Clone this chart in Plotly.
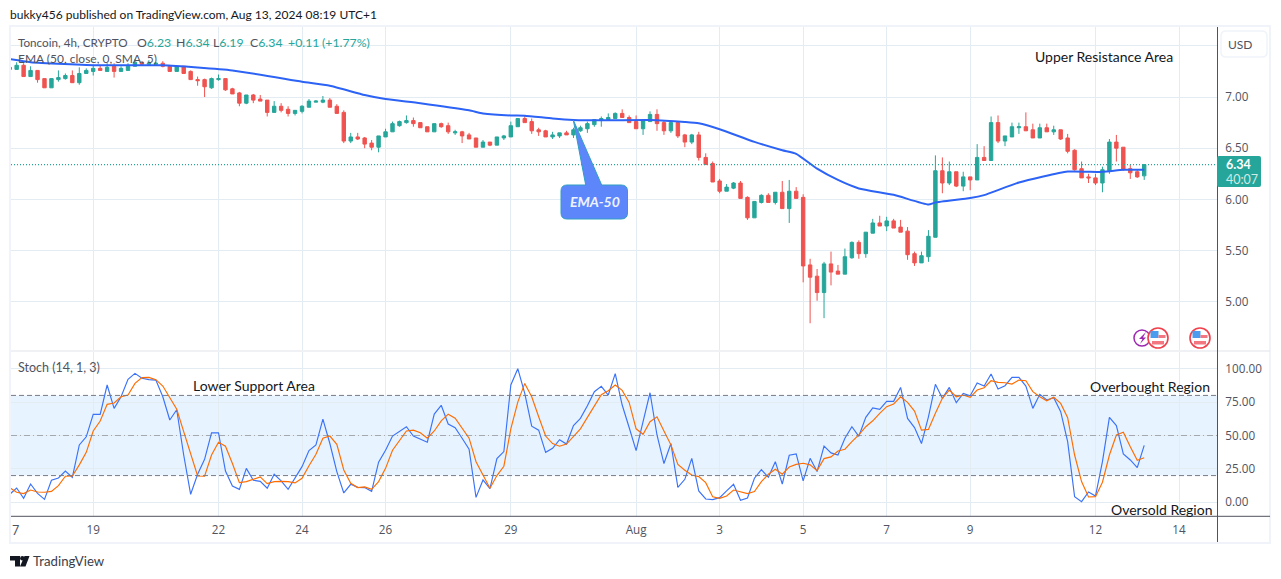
import pandas as pd
import plotly.graph_objects as go

W, H = 1281, 579

# ---- data ----
start_date = "2024-07-17 00:00"
opens = [7.27,7.27,7.31,7.20,7.26,7.18,7.09,7.17,7.18,7.21,
7.14,7.23,7.25,7.28,7.25,7.30,7.25,7.26,7.30,7.34,
7.32,7.32,7.33,7.30,7.25,7.30,7.25,7.17,7.17,7.09,
7.17,7.18,7.08,7.04,6.94,7.02,6.98,6.97,6.85,6.91,
6.88,6.84,6.86,6.90,6.95,6.95,6.97,6.91,6.85,6.57,
6.61,6.60,6.55,6.51,6.61,6.66,6.72,6.75,6.77,6.75,
6.71,6.66,6.74,6.72,6.65,6.66,6.63,6.60,6.51,6.56,
6.53,6.60,6.61,6.71,6.79,6.76,6.68,6.67,6.61,6.62,
6.65,6.63,6.67,6.69,6.73,6.77,6.78,6.79,6.84,6.80,
6.76,6.69,6.76,6.83,6.75,6.67,6.75,6.63,6.56,6.63,
6.41,6.35,6.18,6.08,6.11,6.16,6.02,5.82,5.97,6.04,
5.97,6.07,5.91,6.08,6.02,5.36,5.25,5.09,5.37,5.30,
5.27,5.43,5.58,5.47,5.67,5.77,5.74,5.79,5.73,5.69,
5.47,5.38,5.44,5.63,6.28,6.16,6.27,6.13,6.22,6.19,
6.41,6.38,6.75,6.57,6.61,6.70,6.71,6.68,6.60,6.70,
6.66,6.68,6.60,6.48,6.30,6.22,6.21,6.16,6.28,6.56,
6.51,6.30,6.27,6.23]
highs = [7.34,7.34,7.33,7.30,7.26,7.18,7.18,7.26,7.23,7.26,
7.29,7.28,7.31,7.31,7.33,7.33,7.30,7.33,7.37,7.35,
7.36,7.34,7.35,7.30,7.30,7.30,7.26,7.20,7.18,7.19,
7.22,7.18,7.09,7.05,7.02,7.03,7.02,6.97,6.96,6.94,
6.91,6.87,6.92,6.98,6.97,7.01,6.99,6.93,6.87,6.65,
6.65,6.61,6.58,6.62,6.69,6.76,6.77,6.82,6.80,6.75,
6.71,6.74,6.75,6.75,6.68,6.67,6.65,6.60,6.58,6.56,
6.61,6.63,6.76,6.79,6.82,6.79,6.70,6.68,6.66,6.65,
6.67,6.70,6.72,6.76,6.78,6.81,6.84,6.85,6.88,6.82,
6.82,6.78,6.86,6.88,6.77,6.76,6.76,6.64,6.64,6.66,
6.45,6.37,6.20,6.15,6.17,6.18,6.03,5.98,6.05,6.06,
6.07,6.18,6.19,6.12,6.05,5.42,5.32,5.39,5.49,5.36,
5.52,5.59,5.60,5.68,5.81,5.84,5.83,5.81,5.80,5.73,
5.49,5.49,5.70,6.43,6.41,6.37,6.27,6.27,6.22,6.54,
6.52,6.81,6.82,6.62,6.75,6.75,6.85,6.74,6.74,6.74,
6.72,6.68,6.64,6.49,6.37,6.25,6.25,6.32,6.59,6.63,
6.51,6.34,6.29,6.34]
lows = [7.27,7.27,7.20,7.20,7.14,7.09,7.09,7.15,7.17,7.14,
7.12,7.23,7.21,7.26,7.25,7.19,7.25,7.26,7.30,7.32,
7.31,7.31,7.29,7.25,7.25,7.23,7.17,7.11,7.00,7.08,
7.16,7.06,7.03,6.91,6.93,6.94,6.96,6.81,6.85,6.85,
6.81,6.82,6.84,6.90,6.95,6.94,6.90,6.84,6.55,6.55,
6.58,6.50,6.48,6.46,6.61,6.66,6.71,6.74,6.71,6.70,
6.66,6.66,6.70,6.64,6.63,6.55,6.59,6.51,6.51,6.52,
6.53,6.58,6.61,6.71,6.75,6.64,6.62,6.61,6.59,6.60,
6.63,6.60,6.66,6.65,6.71,6.71,6.78,6.79,6.80,6.75,
6.69,6.63,6.76,6.67,6.63,6.65,6.60,6.51,6.54,6.38,
6.34,6.17,6.06,6.08,6.10,6.01,5.80,5.82,5.96,5.97,
5.95,5.91,5.77,6.01,5.19,4.79,5.01,4.84,5.16,5.27,
5.27,5.42,5.42,5.43,5.67,5.74,5.69,5.72,5.68,5.41,
5.35,5.38,5.39,5.63,6.06,6.14,6.12,6.08,6.09,6.19,
6.38,6.38,6.55,6.52,6.61,6.64,6.67,6.60,6.60,6.66,
6.63,6.58,6.45,6.28,6.21,6.16,6.14,6.07,6.25,6.37,
6.28,6.20,6.21,6.19]
closes = [7.29,7.31,7.20,7.26,7.17,7.09,7.18,7.19,7.21,7.14,
7.23,7.26,7.28,7.26,7.29,7.25,7.28,7.30,7.34,7.32,
7.33,7.33,7.30,7.25,7.30,7.23,7.17,7.16,7.10,7.18,
7.18,7.07,7.03,6.94,7.02,6.97,6.96,6.85,6.91,6.87,
6.84,6.87,6.91,6.96,6.96,6.97,6.90,6.84,6.57,6.61,
6.59,6.54,6.51,6.62,6.66,6.74,6.76,6.77,6.74,6.70,
6.66,6.74,6.71,6.66,6.66,6.62,6.59,6.51,6.56,6.53,
6.61,6.62,6.72,6.79,6.75,6.67,6.66,6.61,6.63,6.65,
6.63,6.68,6.70,6.74,6.78,6.79,6.80,6.84,6.80,6.75,
6.69,6.77,6.83,6.74,6.67,6.75,6.62,6.56,6.63,6.41,
6.34,6.17,6.08,6.12,6.16,6.01,5.82,5.98,6.04,5.97,
6.07,5.91,6.08,6.01,5.35,5.24,5.09,5.37,5.29,5.27,
5.44,5.58,5.47,5.68,5.77,5.74,5.79,5.72,5.68,5.46,
5.38,5.45,5.64,6.28,6.16,6.27,6.13,6.22,6.19,6.41,
6.38,6.75,6.57,6.62,6.71,6.71,6.67,6.60,6.70,6.66,
6.68,6.59,6.47,6.29,6.21,6.21,6.16,6.29,6.56,6.50,
6.29,6.26,6.22,6.34]

ema_bars = [0,3,13,22,32,42,46,51,54,59,66,68,72,74,78,81,86,92,97,99,102,107,111,113,116,119,122,127,132,133,138,140,145,152,157,160,163]
ema_vals = [7.37,7.34,7.31,7.31,7.26,7.15,7.11,7.02,6.98,6.94,6.87,6.84,6.82,6.818,6.79,6.776,6.773,6.776,6.756,6.743,6.685,6.562,6.48,6.445,6.30,6.19,6.107,6.045,5.95,5.97,6.013,6.042,6.165,6.272,6.269,6.289,6.29]

stoch_k = [6,10.7,3,13.7,6.7,2.2,16.5,18.2,23.4,18.7,
42.9,49,65.8,65.8,87.8,70.3,79,92,96.5,92.8,
91.8,91.5,79,61.6,69.3,35.4,6,21,32.2,52,
52,23.4,12.2,9.7,25.4,16.5,15.7,10.5,21,16,
9.7,18,26.7,38.7,42.9,62.3,44,23,7,13.5,
11.2,11,8.2,30,39,49.6,53,56.6,49.6,47,
45,66,72.6,58.6,55.9,47.9,39.7,3.7,16.7,10.2,
32.7,38,87.8,100,81.5,57,54,37.4,40.4,46.9,
43.6,57.4,62.8,72.3,82.8,86.8,80.3,96.3,72.8,56,
38.7,60.3,82,50.4,29,44,11.2,17.2,32.9,8.5,
2.5,2,3.5,8.5,13.5,1.5,3.2,18,24.4,18.7,
30.4,13.7,35.2,36.2,16,32.9,23,42,37,35.4,
47.9,56.6,49.4,63.6,70.6,69.6,75.6,75.6,86,62.8,
55.9,44,64,88.3,77.8,86,74.6,81.5,79.8,89.3,
87,96,84.8,87.3,93.5,93.5,87,70.3,80.8,76.6,
78.3,67.8,45.4,4.2,0.5,7.7,4.7,30.4,63.6,57.4,
36.2,31.7,26,42.6]
stoch_d = [11,7.5,6.5,9.2,7.7,7.5,8.2,12.5,19.5,19.7,
28,37.4,53.4,60.8,73.3,74.3,79,80.3,89,93.3,
93.5,91.8,87,77.8,69.6,52.9,35.4,19.7,19.5,35.4,
45,42,29,14.7,15.5,17.2,19,14,15.5,15.7,
15.5,14.5,18,27.4,36,47.9,49.6,43.4,24.2,14.2,
11,11.5,9.7,15.5,25.4,39,46.6,53.4,54,52,
48,53.4,61,66,63,55,48,30.4,20.4,10.5,
20,27,55,75,89,79,64,49.6,44,42,
43.6,49,55,63.6,72.3,80.5,83.5,87.8,83.8,74.8,
55,50.9,60.3,64,53.4,43,28.4,24,20.4,19.2,
14.7,4.2,3,4.7,9.2,8,6.5,8,15.5,21,
24.7,21,26.4,28.4,29.2,28,23.7,32.7,34,38.4,
39.7,45.4,50.4,56.6,61,66.6,71.6,73.6,79,74.8,
68.3,54,54.6,66.6,77.8,84,79,80.3,78.6,84,
85.8,91,89.8,89.5,88.5,91.5,91,82.8,79,76,
78.6,74,63.3,35.4,15.5,4,4.2,15,35.4,50.4,
52.4,41.6,31.4,33.4]

last_price = 6.34
price_ticks = [7.5, 7.0, 6.5, 6.0, 5.5, 5.0]
price_labels = ["", "7.00", "6.50", "6.00", "5.50", "5.00"]
stoch_ticks = [100, 75, 50, 25, 0]
stoch_labels = ["100.00", "75.00", "50.00", "25.00", "0.00"]
date_ticks = ["2024-07-19","2024-07-22","2024-07-24","2024-07-26","2024-07-29","2024-08-01",
              "2024-08-03","2024-08-05","2024-08-07","2024-08-09","2024-08-12","2024-08-14"]
date_labels = ["19","22","24","26","29","Aug","3","5","7","9","12","14"]

assert len(opens) == len(highs) == len(lows) == len(closes) == len(stoch_k) == len(stoch_d) == 164
dates = pd.date_range(start_date, periods=len(opens), freq="4h")
ema_dates = [dates[b] for b in ema_bars]

# ---- styling ----
FONT = "Lato, sans-serif"
AXFONT = "Open Sans, sans-serif"
GREEN, RED = "#26a69a", "#ef5350"
GRID = "#e4ecf3"
TXT = "#50535e"
DARK = "#131722"
xrange_ = ["2024-07-17 00:45", "2024-08-14 21:50"]

def fx(x): return x / W
def fy(y): return 1 - y / H

def path_px(cmds):
    out = []
    for c in cmds:
        nums = c[1:]
        pts = [f"{fx(nums[i]):.5f},{fy(nums[i+1]):.5f}" for i in range(0, len(nums), 2)]
        out.append(c[0] + " ".join(pts))
    return " ".join(out)

def ann(text, x, y, size=12, color=TXT, anchor="left", **kw):
    return dict(text=text, x=fx(x), y=fy(y), xref="paper", yref="paper", showarrow=False,
                xanchor=anchor, yanchor="middle", align=anchor, borderpad=0, borderwidth=0,
                font=dict(family=kw.pop("family", FONT), size=size, color=color), **kw)

def pline(x0, y0, x1, y1, color, width=1, dash="solid", layer="above"):
    return dict(type="line", xref="paper", yref="paper", x0=fx(x0), y0=fy(y0), x1=fx(x1), y1=fy(y1),
                line=dict(color=color, width=width, dash=dash), layer=layer)

def hline(val, color, width=1, dash="solid", yref="y2", layer="above"):
    return dict(type="line", xref="paper", x0=fx(11), x1=fx(1217), yref=yref, y0=val, y1=val,
                line=dict(color=color, width=width, dash=dash), layer=layer)

def pfill(cmds, fill, line=None, lw=1, layer="above"):
    return dict(type="path", path=path_px(cmds), xref="paper", yref="paper", fillcolor=fill,
                line=dict(color=line or "rgba(0,0,0,0)", width=lw), layer=layer)

def circle(cx, cy, r, fill, line, lw):
    return dict(type="circle", xref="paper", yref="paper", x0=fx(cx-r), x1=fx(cx+r),
                y0=fy(cy+r), y1=fy(cy-r), fillcolor=fill, line=dict(color=line, width=lw))

def rect(x0, y0, x1, y1, fill, layer="above"):
    return dict(type="rect", xref="paper", yref="paper", x0=fx(x0), x1=fx(x1), y0=fy(y1), y1=fy(y0),
                fillcolor=fill, line=dict(width=0), layer=layer)

def rrect(x0, y0, x1, y1, r):
    return [("M", x0+r, y0), ("L", x1-r, y0), ("Q", x1, y0, x1, y0+r), ("L", x1, y1-r),
            ("Q", x1, y1, x1-r, y1), ("L", x0+r, y1), ("Q", x0, y1, x0, y1-r), ("L", x0, y0+r),
            ("Q", x0, y0, x0+r, y0), ("Z",)]

def flag(cx, cy):
    return [circle(cx, cy, 10, "#ffffff", "#f0404c", 1.6),
            rect(cx-7.5, cy-7, cx+0.5, cy+0, "#4b9cee"),
            rect(cx+0.5, cy-3, cx+7.5, cy+0, "#f27780"),
            rect(cx-6, cy+3, cx+6, cy+6.5, "#f27780")]

# ---- traces ----
fig = go.Figure()
fig.add_trace(go.Candlestick(x=dates, open=opens, high=highs, low=lows, close=closes,
    whiskerwidth=0,
    increasing=dict(line=dict(color=GREEN, width=1), fillcolor=GREEN),
    decreasing=dict(line=dict(color=RED, width=1), fillcolor=RED),
    xaxis="x", yaxis="y", showlegend=False, hoverinfo="skip"))
fig.add_trace(go.Scatter(x=ema_dates, y=ema_vals, mode="lines", line=dict(color="#2c63f6", width=2, shape="spline", smoothing=0.5),
    xaxis="x", yaxis="y", showlegend=False, hoverinfo="skip"))
fig.add_trace(go.Scatter(x=dates, y=stoch_k, mode="lines", line=dict(color="#3a72f8", width=1.15),
    xaxis="x2", yaxis="y2", showlegend=False, hoverinfo="skip"))
fig.add_trace(go.Scatter(x=dates, y=stoch_d, mode="lines", line=dict(color="#ff6d00", width=1.15),
    xaxis="x2", yaxis="y2", showlegend=False, hoverinfo="skip"))

# ---- shapes ----
shapes = [
    dict(type="rect", xref="paper", yref="y2", x0=fx(11), x1=fx(1217), y0=20, y1=80,
         fillcolor="rgba(33,150,243,0.11)", line=dict(width=0), layer="below"),
    hline(80, "#787b86", 1, "5px,3px"),
    hline(20, "#787b86", 1, "5px,3px"),
    hline(50, "rgba(120,123,134,0.6)", 1, "6px,3px,1px,3px"),
    hline(last_price, GREEN, 1.2, "1px,2px", yref="y"),
    # chart frame and pane separators
    dict(type="rect", xref="paper", yref="paper", x0=fx(10), x1=fx(1270), y0=fy(543), y1=fy(26),
         line=dict(color="#f0f3fa", width=2), fillcolor="rgba(0,0,0,0)", layer="above"),
    pline(11, 351, 1270, 351, "#e0e3eb"),
    pline(11, 516.3, 1270, 516.3, "#50535e"),
    pline(1217.5, 27, 1217.5, 542, "#50535e"),
    # USD button
    pfill(rrect(1221, 31, 1267, 57, 5), "#ffffff", "#f0f3fa", 1.5),
    # last price tag
    pfill(rrect(1217, 156, 1261, 187, 2), GREEN),
    # EMA-50 callout
    pfill([("M", 573.3, 120), ("L", 601.7, 185), ("L", 621, 185), ("Q", 627.5, 185, 627.5, 191),
           ("L", 627.5, 213), ("Q", 627.5, 219, 621, 219), ("L", 567, 219), ("Q", 561, 219, 561, 213),
           ("L", 561, 191), ("Q", 561, 185, 567, 185), ("L", 585.7, 185), ("Z",)],
          "#5e86fb", "#2f9fc0", 1),
    # events icons
    circle(1142, 338, 8, "#ffffff", "#9c27b0", 1.5),
    pfill([("M", 1146, 332), ("L", 1139, 339), ("L", 1142.5, 339), ("L", 1140, 344), ("L", 1146, 337.5),
           ("L", 1143, 337.5), ("Z",)], "#9c27b0"),
    *flag(1158, 338),
    *flag(1200, 338),
    # TradingView mark
    pfill([("M", 10, 556), ("L", 20, 556), ("L", 20, 566.5), ("L", 15, 566.5), ("L", 15, 560.5), ("L", 10, 560.5), ("Z",)], "#131722"),
    circle(22.3, 558.2, 2.2, "#131722", "#131722", 0),
    pfill([("M", 24.5, 556), ("L", 29.5, 556), ("L", 25.5, 566.5), ("L", 20, 566.5), ("Z",)], "#131722"),
]

# ---- texts ----
def val(label, value, x):
    return ann(f'<span style="color:{TXT}">{label}</span><span style="color:{GREEN}">{value}</span>', x, 42, 12.3)

annotations = [
    ann("bukky456 published on TradingView.com, Aug 13, 2024 08:19 UTC+1", 10, 15, 12, DARK),
    ann("Toncoin, 4h, CRYPTO", 18, 42, 11.7),
    val("O", "6.23", 136.5), val("H", "6.34", 175.5), val("L", "6.19", 213), val("C", "6.34", 250),
    ann("+0.11", 287.5, 42, 12.3, GREEN), ann("(+1.77%)", 322, 42, 12.3, GREEN),
    ann("EMA (50, close, 0, SMA, 5)", 18, 59, 12),
    ann("Stoch (14, 1, 3)", 18, 367, 12.5),
    ann("Upper Resistance Area", 1035, 56.5, 14, DARK),
    ann("Lower Support Area", 193, 385, 14, DARK),
    ann("Overbought Region", 1090, 386, 14, DARK),
    ann("Oversold Region", 1111, 509, 14, DARK),
    ann("<b><i>EMA-50</i></b>", 594.5, 201, 14, "#eef3ff", anchor="center"),
    ann("USD", 1240, 44.5, 12, TXT, anchor="center"),
    ann("<b>6.34</b>", 1226, 164.5, 12.5, "#ffffff"),
    ann("40:07", 1226, 179, 12.5, "#cfeae7"),
    ann("7", 12, 530, 12.5, TXT),
    ann("TradingView", 33, 561, 13.2, "#3a3e4a"),
]

axis_font = dict(family=AXFONT, size=11.7, color=TXT)
fig.update_layout(
    width=W, height=H, autosize=False,
    margin=dict(l=0, r=0, t=0, b=0, pad=0),
    paper_bgcolor="#ffffff", plot_bgcolor="#ffffff",
    font=dict(family=FONT), showlegend=False, boxgap=0.3,
    xaxis=dict(domain=[fx(11), fx(1217)], range=xrange_, type="date", anchor="y",
               rangeslider=dict(visible=False), showticklabels=False, ticks="",
               tickmode="array", tickvals=date_ticks, ticktext=date_labels,
               showgrid=True, gridcolor=GRID, gridwidth=1, zeroline=False),
    yaxis=dict(domain=[fy(350), fy(27)], range=[4.529, 7.684], side="right", anchor="x",
               tickmode="array", tickvals=price_ticks, ticktext=price_labels, tickfont=axis_font,
               ticks="outside", ticklen=5, tickcolor="rgba(0,0,0,0)",
               showgrid=True, gridcolor=GRID, gridwidth=1, zeroline=False),
    xaxis2=dict(domain=[fx(11), fx(1217)], range=xrange_, type="date", anchor="y2",
                tickmode="array", tickvals=date_ticks, ticktext=date_labels, tickfont=axis_font,
                ticks="", ticklen=0, tickangle=0, ticklabelstandoff=5,
                showgrid=True, gridcolor=GRID, gridwidth=1, zeroline=False),
    yaxis2=dict(domain=[fy(516), fy(352)], range=[-10.25, 112.5], side="right", anchor="x2",
                tickmode="array", tickvals=stoch_ticks, ticktext=stoch_labels, tickfont=axis_font,
                ticks="outside", ticklen=5, tickcolor="rgba(0,0,0,0)",
                showgrid=True, gridcolor=GRID, gridwidth=1, zeroline=False),
    shapes=shapes,
    annotations=annotations,
)

fig.write_html("out.html", config=dict(displayModeBar=False),
               post_script="document.body.style.margin='0';document.documentElement.style.overflow='hidden';")
